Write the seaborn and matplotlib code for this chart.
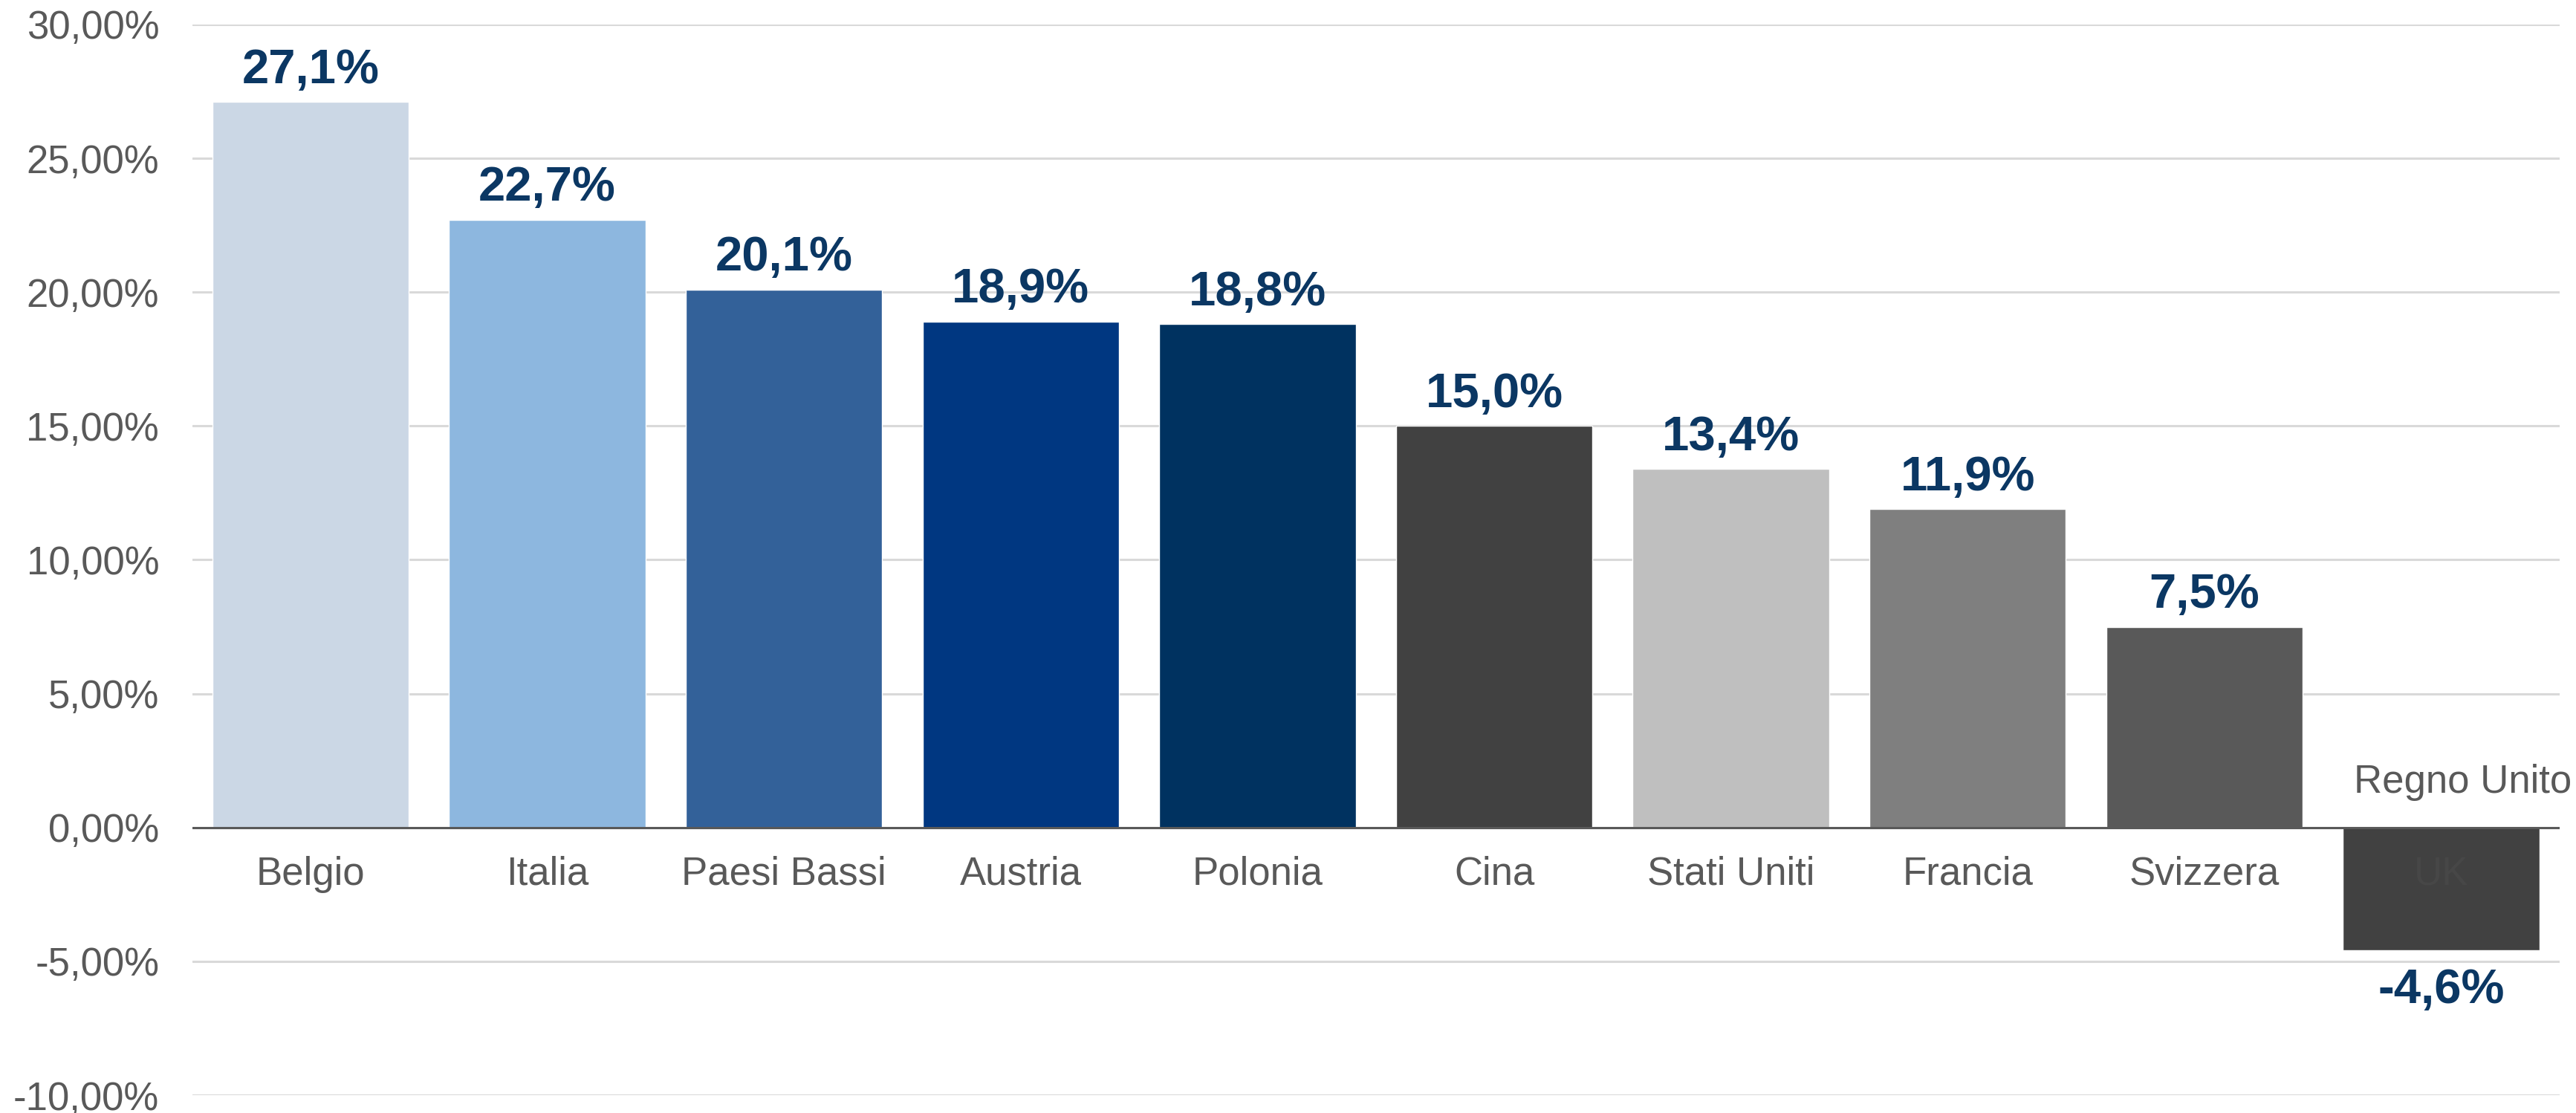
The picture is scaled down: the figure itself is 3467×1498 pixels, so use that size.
import numpy as np
import pandas as pd
import matplotlib
matplotlib.use("Agg")
import matplotlib.pyplot as plt
import seaborn as sns

# Data
countries = ["Belgio", "Italia", "Paesi Bassi", "Austria", "Polonia",
             "Cina", "Stati Uniti", "Francia", "Svizzera", "UK"]
growth = [27.1, 22.7, 20.1, 18.9, 18.8, 15.0, 13.4, 11.9, 7.5, -4.6]
bar_colors = ["#CBD7E5", "#8DB7DF", "#336199", "#003781", "#003260",
              "#414141", "#BFBFBF", "#7F7F7F", "#595959", "#414141"]
yticks = [-10, -5, 0, 5, 10, 15, 20, 25, 30]
note_text = "Regno Unito"

df = pd.DataFrame({"country": countries, "growth": growth})

sns.set_style("white")
plt.rcParams["font.family"] = ["Liberation Sans", "DejaVu Sans"]

fig = plt.figure(figsize=(34.67, 14.98), dpi=100)
ax = fig.add_axes([0.0746, 0.016, 0.919, 0.962])

sns.barplot(data=df, x="country", y="growth", hue="country", palette=bar_colors,
            saturation=1, width=0.83, legend=False, ax=ax, zorder=3)

# value labels
fmt = [f"{v:.1f}%".replace(".", ",") for v in growth]
for cont, lab, v in zip(ax.containers, fmt, growth):
    pad = 9 if v >= 0 else 17
    ax.bar_label(cont, labels=[lab], padding=pad, fontsize=47, fontweight="bold",
                 color="#0B3763")

ax.set_ylim(-10, 30)
ax.set_xlim(-0.5, len(countries) - 0.5)
ax.set_yticks(yticks)
ax.set_yticklabels([f"{t:.2f}%".replace(".", ",") for t in yticks])
ax.yaxis.grid(True, color="#D9D9D9", linewidth=2.2, zorder=0)
ax.axhline(0, color="#595959", linewidth=2.2, zorder=4)

ax.tick_params(axis="both", length=0, labelsize=38, labelcolor="#595959")
ax.tick_params(axis="y", pad=32)
ax.set_xticks([])

# category names just under the zero line (UK sits inside its bar)
for i, name in enumerate(countries):
    col = "#474747" if growth[i] < 0 else "#595959"
    ax.text(i, -1.75, name, ha="center", va="center", fontsize=38, color=col, zorder=5)

ax.text(len(countries) - 1 + 0.09, 1.7, note_text, ha="center", va="center",
        fontsize=38, color="#595959", zorder=5)

ax.set_xlabel("")
ax.set_ylabel("")
sns.despine(ax=ax, left=True, bottom=True, top=True, right=True)

fig.savefig("out.png", dpi=100)
